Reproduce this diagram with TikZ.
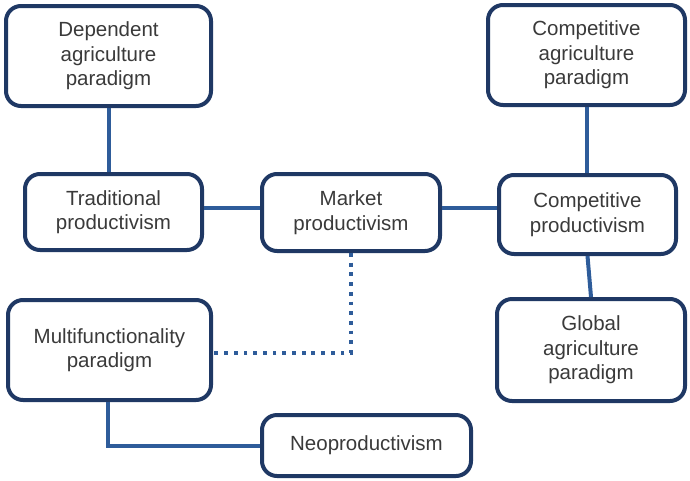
\documentclass[tikz,border=0pt]{standalone}
\usepackage{fontspec}
\setmainfont{Liberation Sans}
\usepackage{tikz}

\definecolor{boxline}{HTML}{1F3864}
\definecolor{linkline}{HTML}{2E5C9A}
\definecolor{boxtext}{HTML}{3A3A3A}

\tikzset{
  box/.style={draw=boxline, line width=4pt, rounded corners=15pt, fill=white,
    align=center, text=boxtext, inner sep=0pt,
    font=\fontsize{20.5}{24.5}\selectfont},
  link/.style={draw=linkline, line width=4pt},
  weaklink/.style={link, dash pattern=on 3.8pt off 5.9pt}
}

\begin{document}
\begin{tikzpicture}[x=1pt,y=-1pt]
    \useasboundingbox (0,0) rectangle (690,480);

    % paradigms on the left
    \node[box, minimum width=205pt, minimum height=100pt] (dep) at (108.5,56) {Dependent\\agriculture\\paradigm};
    \node[box, minimum width=177pt, minimum height=76pt] (trad) at (113.5,212) {Traditional\\productivism};
    \node[box, minimum width=203pt, minimum height=100pt] (multi) at (109.5,350) {Multifunctionality\\paradigm};

    % middle
    \node[box, minimum width=178pt, minimum height=77pt] (market) at (351,212.5) {Market\\productivism};
    \node[box, minimum width=209pt, minimum height=61pt] (neo) at (366.5,445.5) {Neoproductivism};

    % paradigms on the right
    \node[box, minimum width=197pt, minimum height=100pt] (compagr) at (586.5,55) {Competitive\\agriculture\\paradigm};
    \node[box, minimum width=177pt, minimum height=79pt] (compprod) at (587.5,214.5) {Competitive\\productivism};
    \node[box, minimum width=188pt, minimum height=102pt] (global) at (591,350) {Global\\agriculture\\paradigm};

    % connectors
    \draw[link] (dep.south) -- (dep.south |- trad.north);
    \draw[link] ([yshift=4pt]trad.east) -- ([yshift=4pt]trad.east -| market.west);
    \draw[link] ([yshift=5pt]market.east) -- ([yshift=5pt]market.east -| compprod.west);
    \draw[link] (compagr.south) -- (compagr.south |- compprod.north);
    \draw[link] (compprod.south) -- (global.north);
    \draw[link] ([xshift=-2pt]multi.south) |- (neo.west);

    % dotted tie
    \draw[weaklink] (market.south) |- ([yshift=-3pt]multi.east);
\end{tikzpicture}
\end{document}
